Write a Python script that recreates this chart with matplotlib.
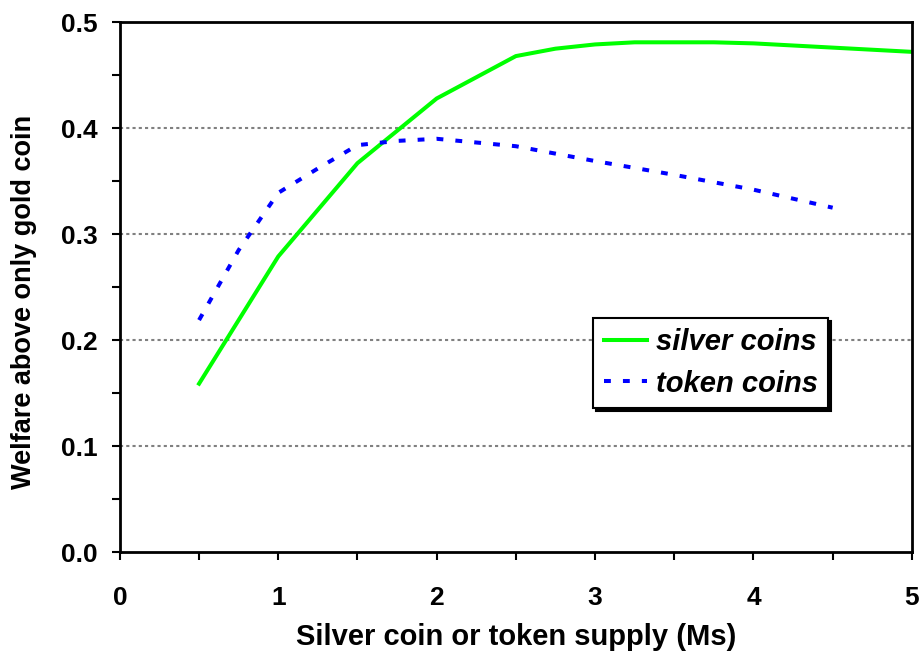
import matplotlib.pyplot as plt
from matplotlib.ticker import MultipleLocator

plt.rcParams['font.family'] = ['Liberation Sans', 'DejaVu Sans']

# silver coins series
silver_x = [0.5, 1.0, 1.5, 2.0, 2.5, 2.75, 3.0, 3.25, 3.5, 3.75, 4.0, 4.5, 5.0]
silver_y = [0.159, 0.279, 0.367, 0.428, 0.468, 0.475, 0.479, 0.481, 0.481, 0.481, 0.480, 0.476, 0.472]

# token coins series
token_x = [0.5, 0.75, 1.0, 1.25, 1.5, 1.75, 2.0, 2.5, 3.0, 3.5, 4.0, 4.5]
token_y = [0.219, 0.285, 0.339, 0.362, 0.384, 0.388, 0.390, 0.383, 0.369, 0.356, 0.342, 0.325]

fig = plt.figure(figsize=(9.22, 6.52), dpi=100)
ax = fig.add_axes([0.130, 0.153, 0.859, 0.813])

ax.plot(silver_x, silver_y, color='#00ff00', lw=2.9, label='silver coins')
ax.plot(token_x, token_y, color='#0000ff', lw=2.9, ls=(0, (1.7, 3.0)), label='token coins')

ax.set_xlim(0, 5)
ax.set_ylim(0, 0.5)
ax.xaxis.set_major_locator(MultipleLocator(1))
ax.xaxis.set_minor_locator(MultipleLocator(0.5))
ax.yaxis.set_major_locator(MultipleLocator(0.1))
ax.yaxis.set_minor_locator(MultipleLocator(0.05))
ax.yaxis.set_major_formatter(plt.FormatStrFormatter('%.1f'))
ax.tick_params(which='both', direction='out', width=1.5, length=6, labelsize=19)
ax.tick_params(axis='x', pad=18)
ax.tick_params(axis='y', pad=10)
for lab in ax.get_xticklabels() + ax.get_yticklabels():
    lab.set_fontweight('bold')

for y in [0.1, 0.2, 0.3, 0.4]:
    ax.axhline(y, color='gray', lw=1.5, ls=(0, (1.5, 1.5)), zorder=0)

for s in ax.spines.values():
    s.set_linewidth(2)

ax.set_xlabel('Silver coin or token supply (Ms)', fontsize=21, fontweight='bold')
ax.set_ylabel('Welfare above only gold coin', fontsize=19.5, fontweight='bold')
ax.xaxis.set_label_coords(0.5, -0.134)
ax.yaxis.set_label_coords(-0.104, 0.473)

leg = ax.legend(loc='upper left', bbox_to_anchor=(0.598, 0.4415), borderaxespad=0,
                frameon=True, fancybox=False, shadow={'color': 'black', 'alpha': 1},
                handlelength=1.5, handletextpad=0.3, labelspacing=0.45, borderpad=0.35,
                prop={'size': 21, 'weight': 'bold', 'style': 'italic'})
leg.get_frame().set_edgecolor('black')
leg.get_frame().set_linewidth(1.5)

fig.savefig('out.png', dpi=100)
